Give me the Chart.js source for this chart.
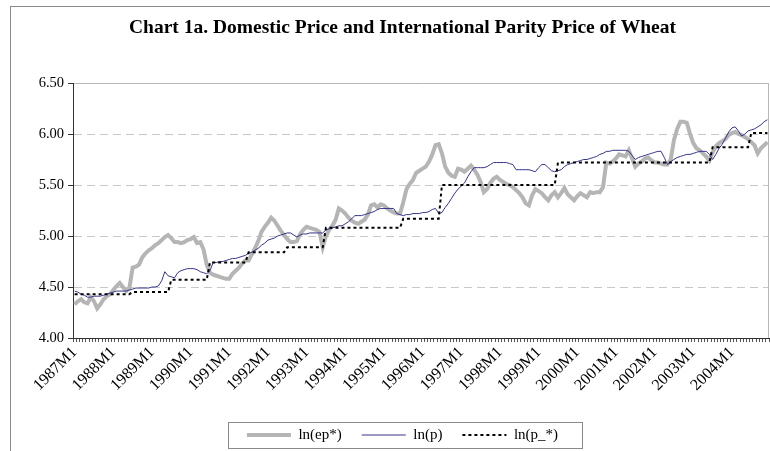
<!DOCTYPE html>
<html lang="en">
<head>
    <meta charset="UTF-8">
    <title>Chart 1a. Domestic Price and International Parity Price of Wheat</title>
    <script src="https://cdn.jsdelivr.net/npm/chart.js"></script>
    <style>
        body {
            margin: 0;
            background: #fff;
            overflow: hidden;
            width: 770px;
            height: 451px;
        }

        .frame {
            position: absolute;
            left: 10px;
            top: 6px;
            width: 800px;
            height: 500px;
            border: 1px solid #8a8a8a;
        }

        .wrap {
            position: absolute;
            left: 0;
            top: 0;
            width: 770px;
            height: 451px;
        }
    </style>
</head>
<body>
    <div class="frame"></div>
    <div class="wrap"><canvas id="wheatChart"></canvas></div>

    <script>
        // monthly, 1987M1 .. 2004M12
        const startYear = 1987;
        const monthCount = 216;
        const yTicks = [4.00, 4.50, 5.00, 5.50, 6.00, 6.50];

        // ln(ep*) - international parity price
        const lnEpStar = [
            4.33, 4.36, 4.38, 4.35, 4.34, 4.40, 4.36, 4.29, 4.33, 4.38, 4.41, 4.43, // 1987
            4.47, 4.51, 4.54, 4.50, 4.46, 4.49, 4.69, 4.70, 4.72, 4.79, 4.83, 4.86, // 1988
            4.88, 4.91, 4.93, 4.96, 4.99, 5.01, 4.98, 4.94, 4.94, 4.93, 4.94, 4.96, // 1989
            4.97, 4.99, 4.93, 4.94, 4.87, 4.72, 4.64, 4.62, 4.61, 4.60, 4.59, 4.58, // 1990
            4.58, 4.63, 4.66, 4.69, 4.73, 4.76, 4.76, 4.82, 4.88, 4.95, 5.04, 5.09, // 1991
            5.13, 5.18, 5.15, 5.10, 5.05, 5.01, 4.97, 4.94, 4.94, 4.95, 5.02, 5.06, // 1992
            5.09, 5.08, 5.07, 5.06, 5.04, 4.89, 5.00, 5.06, 5.10, 5.16, 5.27, 5.25, // 1993
            5.22, 5.18, 5.15, 5.13, 5.12, 5.14, 5.16, 5.21, 5.30, 5.31, 5.28, 5.31, // 1994
            5.30, 5.27, 5.25, 5.23, 5.22, 5.22, 5.33, 5.46, 5.51, 5.55, 5.62, 5.64, // 1995
            5.66, 5.68, 5.73, 5.80, 5.89, 5.90, 5.81, 5.68, 5.62, 5.59, 5.58, 5.66, // 1996
            5.65, 5.63, 5.66, 5.69, 5.65, 5.60, 5.53, 5.43, 5.46, 5.52, 5.56, 5.58, // 1997
            5.55, 5.53, 5.51, 5.50, 5.48, 5.45, 5.42, 5.38, 5.32, 5.30, 5.40, 5.46, // 1998
            5.44, 5.42, 5.38, 5.35, 5.40, 5.43, 5.38, 5.42, 5.47, 5.41, 5.38, 5.35, // 1999
            5.39, 5.42, 5.40, 5.38, 5.43, 5.42, 5.43, 5.43, 5.48, 5.72, 5.71, 5.73, // 2000
            5.76, 5.80, 5.79, 5.78, 5.84, 5.76, 5.68, 5.71, 5.73, 5.76, 5.77, 5.74, // 2001
            5.72, 5.72, 5.71, 5.70, 5.70, 5.75, 5.94, 6.05, 6.12, 6.12, 6.11, 6.00, // 2002
            5.91, 5.86, 5.84, 5.81, 5.78, 5.74, 5.82, 5.88, 5.91, 5.93, 5.95, 5.99, // 2003
            6.01, 6.02, 6.00, 5.99, 5.97, 5.95, 5.92, 5.89, 5.81, 5.86, 5.89, 5.92  // 2004
        ];

        // ln(p) - domestic price
        const lnP = [
            4.46, 4.45, 4.43, 4.42, 4.40, 4.40, 4.41, 4.41, 4.41, 4.42, 4.43, 4.44, // 1987
            4.45, 4.46, 4.46, 4.46, 4.46, 4.47, 4.48, 4.49, 4.49, 4.49, 4.49, 4.49, // 1988
            4.50, 4.50, 4.51, 4.56, 4.65, 4.61, 4.60, 4.59, 4.64, 4.66, 4.67, 4.68, // 1989
            4.68, 4.68, 4.67, 4.65, 4.64, 4.63, 4.66, 4.74, 4.74, 4.75, 4.75, 4.76, // 1990
            4.77, 4.78, 4.78, 4.79, 4.80, 4.81, 4.83, 4.84, 4.86, 4.88, 4.91, 4.93, // 1991
            4.96, 4.97, 4.98, 5.00, 5.01, 5.02, 5.03, 5.03, 5.01, 4.99, 5.01, 5.02, // 1992
            5.02, 5.03, 5.03, 5.03, 5.03, 5.03, 5.06, 5.07, 5.08, 5.09, 5.10, 5.10, // 1993
            5.12, 5.14, 5.17, 5.20, 5.20, 5.20, 5.21, 5.22, 5.23, 5.24, 5.26, 5.27, // 1994
            5.27, 5.27, 5.27, 5.27, 5.22, 5.21, 5.20, 5.21, 5.21, 5.22, 5.22, 5.22, // 1995
            5.23, 5.23, 5.24, 5.26, 5.27, 5.22, 5.23, 5.28, 5.32, 5.37, 5.42, 5.46, // 1996
            5.49, 5.52, 5.58, 5.63, 5.67, 5.67, 5.67, 5.67, 5.68, 5.70, 5.72, 5.72, // 1997
            5.72, 5.72, 5.72, 5.71, 5.70, 5.65, 5.65, 5.65, 5.65, 5.65, 5.64, 5.63, // 1998
            5.67, 5.70, 5.70, 5.67, 5.64, 5.63, 5.64, 5.65, 5.68, 5.70, 5.71, 5.72, // 1999
            5.73, 5.74, 5.75, 5.75, 5.76, 5.77, 5.78, 5.80, 5.81, 5.83, 5.83, 5.84, // 2000
            5.84, 5.84, 5.84, 5.84, 5.83, 5.79, 5.75, 5.77, 5.78, 5.79, 5.80, 5.81, // 2001
            5.82, 5.83, 5.83, 5.77, 5.70, 5.73, 5.75, 5.77, 5.78, 5.79, 5.80, 5.80, // 2002
            5.81, 5.82, 5.83, 5.83, 5.83, 5.80, 5.75, 5.80, 5.86, 5.90, 5.96, 6.02, // 2003
            6.06, 6.07, 6.03, 5.98, 6.00, 6.03, 6.04, 6.05, 6.07, 6.09, 6.12, 6.14  // 2004
        ];

        // ln(p_*) - changes each July
        const lnPStar = [
            4.43, 4.43, 4.43, 4.43, 4.43, 4.43, 4.43, 4.43, 4.43, 4.43, 4.43, 4.43, // 1987
            4.43, 4.43, 4.43, 4.43, 4.43, 4.43, 4.45, 4.45, 4.45, 4.45, 4.45, 4.45, // 1988
            4.45, 4.45, 4.45, 4.45, 4.45, 4.45, 4.57, 4.57, 4.57, 4.57, 4.57, 4.57, // 1989
            4.57, 4.57, 4.57, 4.57, 4.57, 4.57, 4.74, 4.74, 4.74, 4.74, 4.74, 4.74, // 1990
            4.74, 4.74, 4.74, 4.74, 4.74, 4.74, 4.84, 4.84, 4.84, 4.84, 4.84, 4.84, // 1991
            4.84, 4.84, 4.84, 4.84, 4.84, 4.84, 4.89, 4.89, 4.89, 4.89, 4.89, 4.89, // 1992
            4.89, 4.89, 4.89, 4.89, 4.89, 4.89, 5.08, 5.08, 5.08, 5.08, 5.08, 5.08, // 1993
            5.08, 5.08, 5.08, 5.08, 5.08, 5.08, 5.08, 5.08, 5.08, 5.08, 5.08, 5.08, // 1994
            5.08, 5.08, 5.08, 5.08, 5.08, 5.08, 5.17, 5.17, 5.17, 5.17, 5.17, 5.17, // 1995
            5.17, 5.17, 5.17, 5.17, 5.17, 5.17, 5.50, 5.50, 5.50, 5.50, 5.50, 5.50, // 1996
            5.50, 5.50, 5.50, 5.50, 5.50, 5.50, 5.50, 5.50, 5.50, 5.50, 5.50, 5.50, // 1997
            5.50, 5.50, 5.50, 5.50, 5.50, 5.50, 5.50, 5.50, 5.50, 5.50, 5.50, 5.50, // 1998
            5.50, 5.50, 5.50, 5.50, 5.50, 5.50, 5.72, 5.72, 5.72, 5.72, 5.72, 5.72, // 1999
            5.72, 5.72, 5.72, 5.72, 5.72, 5.72, 5.72, 5.72, 5.72, 5.72, 5.72, 5.72, // 2000
            5.72, 5.72, 5.72, 5.72, 5.72, 5.72, 5.72, 5.72, 5.72, 5.72, 5.72, 5.72, // 2001
            5.72, 5.72, 5.72, 5.72, 5.72, 5.72, 5.72, 5.72, 5.72, 5.72, 5.72, 5.72, // 2002
            5.72, 5.72, 5.72, 5.72, 5.72, 5.72, 5.87, 5.87, 5.87, 5.87, 5.87, 5.87, // 2003
            5.87, 5.87, 5.87, 5.87, 5.87, 5.87, 6.01, 6.01, 6.01, 6.01, 6.01, 6.01  // 2004
        ];

        // category labels 1987M1, 1987M2, ...
        const monthLabels = [];
        for (let i = 0; i < monthCount; i++) {
            monthLabels.push((startYear + Math.floor(i / 12)) + "M" + (i % 12 + 1));
        }

        const serif = "'Liberation Serif', 'Times New Roman', serif";

        // grey edge on the right of the plot area
        const plotEdge = {
            id: "plotEdge",
            beforeDatasetsDraw(chart) {
                const a = chart.chartArea;
                const ctx = chart.ctx;
                ctx.save();
                ctx.strokeStyle = "#b8b8b8";
                ctx.lineWidth = 1;
                ctx.beginPath();
                ctx.moveTo(Math.round(a.right) - 0.5, a.top);
                ctx.lineTo(Math.round(a.right) - 0.5, a.bottom);
                ctx.stroke();
                ctx.restore();
            }
        };

        // thin box round the legend, like the Excel original
        const legendFrame = {
            id: "legendFrame",
            afterDraw(chart) {
                const boxes = chart.legend && chart.legend.legendHitBoxes;
                if (!boxes || !boxes.length) return;
                const first = boxes[0];
                const last = boxes[boxes.length - 1];
                const ctx = chart.ctx;
                const x0 = Math.round(first.left) - 18.5;
                const x1 = Math.round(last.left + last.width) + 24.5;
                const y0 = Math.round(first.top) - 5.5;
                ctx.save();
                ctx.strokeStyle = "#8a8a8a";
                ctx.lineWidth = 1;
                ctx.strokeRect(x0, y0, x1 - x0, 26);
                ctx.restore();
            }
        };

        const ctx = document.getElementById("wheatChart").getContext("2d");
        const wheatChart = new Chart(ctx, {
            type: "line",
            data: {
                labels: monthLabels,
                datasets: [
                    {
                        label: "ln(ep*)",
                        data: lnEpStar,
                        borderColor: "#b5b5b5",
                        borderWidth: 4,
                        order: 3
                    },
                    {
                        label: "ln(p)",
                        data: lnP,
                        borderColor: "#34348a",
                        borderWidth: 1,
                        order: 2
                    },
                    {
                        label: "ln(p_*)",
                        data: lnPStar,
                        borderColor: "#000000",
                        borderWidth: 2,
                        borderDash: [3, 3],
                        order: 1
                    }
                ]
            },
            options: {
                responsive: true,
                maintainAspectRatio: false,
                devicePixelRatio: 1,
                animation: false,
                layout: {
                    padding: { left: 36, right: 1, top: 0, bottom: -1.5 }
                },
                elements: {
                    point: { radius: 0 },
                    line: { tension: 0, borderCapStyle: "butt" }
                },
                plugins: {
                    title: {
                        display: true,
                        text: "Chart 1a. Domestic Price and International Parity Price of Wheat",
                        color: "#000",
                        font: { family: serif, size: 19.5, weight: "bold" },
                        padding: { top: 16.3, bottom: 43.3 }
                    },
                    legend: {
                        display: true,
                        position: "bottom",
                        labels: {
                            color: "#000",
                            font: { family: serif, size: 15 },
                            usePointStyle: true,
                            pointStyleWidth: 44,
                            padding: 20,
                            generateLabels: chart => chart.data.datasets.map((ds, i) => ({
                                text: ds.label,
                                strokeStyle: ds.borderColor,
                                fillStyle: ds.borderColor,
                                lineWidth: ds.borderWidth,
                                lineDash: ds.borderDash || [],
                                pointStyle: "line",
                                hidden: false,
                                datasetIndex: i,
                                fontColor: "#000"
                            }))
                        }
                    },
                    tooltip: { enabled: false }
                },
                scales: {
                    x: {
                        offset: true,
                        afterFit: scale => {
                            scale.height = 69.5;
                            scale.paddingLeft = 0;
                            scale.paddingRight = 0;
                        },
                        grid: {
                            display: true,
                            offset: true,
                            drawOnChartArea: false,
                            color: "rgba(0,0,0,0)",
                            drawTicks: true,
                            tickLength: 4,
                            tickColor: "#555"
                        },
                        border: { display: true, color: "#333", width: 1 },
                        ticks: {
                            autoSkip: false,
                            maxRotation: 45,
                            minRotation: 45,
                            padding: 1,
                            color: "#000",
                            font: { family: serif, size: 16 },
                            callback: function (value, index) {
                                const lab = monthLabels[index];
                                return lab.endsWith("M1") ? lab : "";
                            }
                        }
                    },
                    y: {
                        min: yTicks[0],
                        max: yTicks[yTicks.length - 1],
                        afterFit: scale => {
                            scale.width = 37;
                        },
                        afterBuildTicks: scale => {
                            scale.ticks = yTicks.map(v => ({ value: v }));
                        },
                        grid: {
                            color: c => (c.tick && c.tick.value === 6.5 ? "#b8b8b8" : "#c8c8c8"),
                            lineWidth: 1,
                            drawTicks: true,
                            tickLength: 5,
                            tickColor: "#333"
                        },
                        border: {
                            display: true,
                            color: "#333",
                            width: 1,
                            dash: c => (c.tick && c.tick.value === 6.5 ? [] : [8, 5])
                        },
                        ticks: {
                            padding: 4,
                            color: "#000",
                            font: { family: serif, size: 14.5 },
                            callback: v => Number(v).toFixed(2)
                        }
                    }
                }
            },
            plugins: [plotEdge, legendFrame]
        });
    </script>
</body>
</html>
